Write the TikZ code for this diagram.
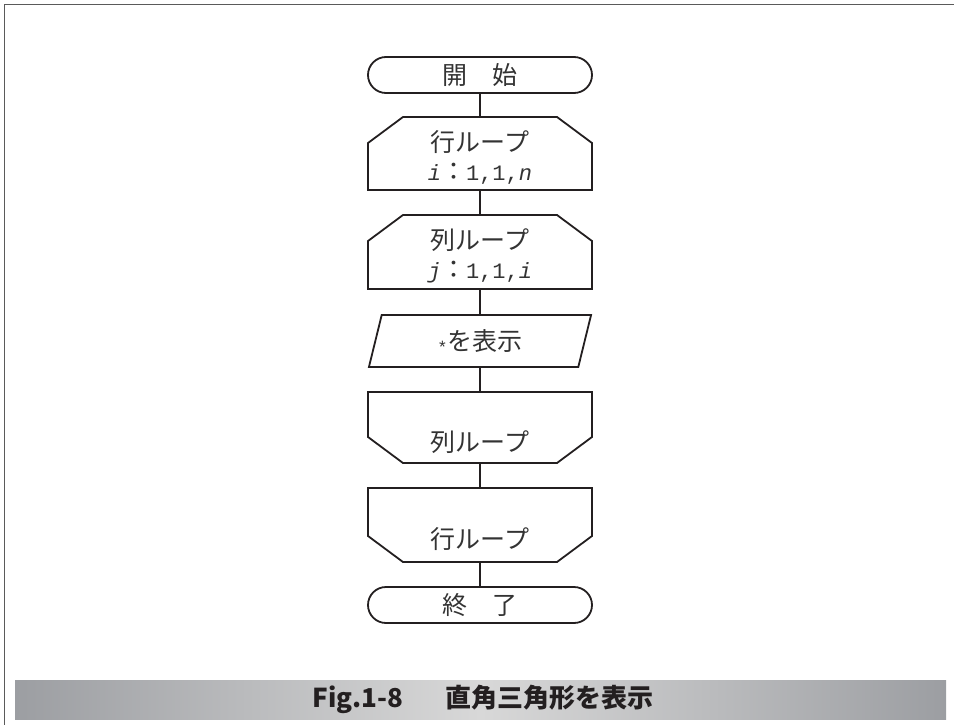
\documentclass[tikz,border=0pt]{standalone}
\usepackage{fontspec}
\setmainfont{Noto Sans CJK JP}
\newfontfamily\codefont{Liberation Mono}
\usetikzlibrary{shapes.misc,shapes.geometric}

\definecolor{ink}{HTML}{231F20}
\definecolor{txt}{HTML}{333333}
\definecolor{framegray}{HTML}{5A5A5A}
\definecolor{bardark}{HTML}{9C9EA2}
\definecolor{barlight}{HTML}{D8D8D8}

\tikzset{
    box/.style={draw=ink, line width=1.8pt, inner sep=0pt, outer sep=0pt,
        text=txt, font=\fontsize{25}{30}\selectfont, align=center},
    terminal/.style={box, rounded rectangle, minimum width=224pt, minimum height=36pt},
    loopbox/.style={box, draw=none, rectangle, minimum width=224pt},
    io/.style={box, trapezium, trapezium left angle=77, trapezium right angle=103,
        trapezium stretches=true, minimum width=224pt, minimum height=52pt},
    outline/.style={draw=ink, line width=1.8pt, line join=miter},
    flow/.style={draw=ink, line width=1.8pt},
}
\newcommand{\loopvar}[1]{{\codefont\fontsize{22}{26}\selectfont #1}}
% chamfered outlines round a loop node
\newcommand{\looptop}[1]{%
    \draw[outline] ([yshift=-26pt]#1.north west) -- ([xshift=35pt]#1.north west)
        -- ([xshift=-35pt]#1.north east) -- ([yshift=-26pt]#1.north east)
        -- (#1.south east) -- (#1.south west) -- cycle;}
\newcommand{\loopbottom}[1]{%
    \draw[outline] ([yshift=26pt]#1.south west) -- ([xshift=35pt]#1.south west)
        -- ([xshift=-35pt]#1.south east) -- ([yshift=26pt]#1.south east)
        -- (#1.north east) -- (#1.north west) -- cycle;}

\begin{document}
\begin{tikzpicture}[x=1pt,y=-1pt]
    \useasboundingbox (0,0) rectangle (954,725);
    % page frame
    \draw[framegray, line width=1.6pt] (954,4.5) -- (4.5,4.5) -- (4.5,725);

    \node[terminal] (start) at (480,75) {開　始};
    \node[loopbox, minimum height=73pt] (rowloop) at (480,153.5) {};
    \node[loopbox, minimum height=74pt] (colloop) at (480,252) {};
    \node[io] (print) at (480,341)
        {\raisebox{-3pt}{\codefont\fontsize{17}{17}\selectfont *}を表示};
    \node[loopbox, minimum height=71pt] (colend) at (480,427.5) {};
    \node[loopbox, minimum height=74pt] (rowend) at (480,525) {};
    \node[terminal] (stop) at (480,605) {終　了};

    \looptop{rowloop}
    \looptop{colloop}
    \loopbottom{colend}
    \loopbottom{rowend}

    % loop texts
    \node[box, draw=none] (rowname) at (480,142) {行ループ};
    \node[box, draw=none] (rowvar) at (480,174) {\loopvar{\textit{i}}：\loopvar{1,1,\textit{n}}};
    \node[box, draw=none] (colname) at (480,240) {列ループ};
    \node[box, draw=none] (colvar) at (480,272) {\loopvar{\textit{j}}：\loopvar{1,1,\textit{i}}};
    \node[box, draw=none] (colendname) at (480,442) {列ループ};
    \node[box, draw=none] (rowendname) at (480,539) {行ループ};

    \draw[flow] (start) -- (rowloop);
    \draw[flow] (rowloop) -- (colloop);
    \draw[flow] (colloop) -- (print);
    \draw[flow] (print) -- (colend);
    \draw[flow] (colend) -- (rowend);
    \draw[flow] (rowend) -- (stop);

    % caption bar
    \shade[left color=bardark, right color=bardark, middle color=barlight]
        (15,680) rectangle (946,719);
    \node[text=ink, font=\fontsize{26}{30}\selectfont\bfseries] (caption) at (483,699.5)
        {Fig.1-8\hspace{1.6em}直角三角形を表示};
\end{tikzpicture}
\end{document}
